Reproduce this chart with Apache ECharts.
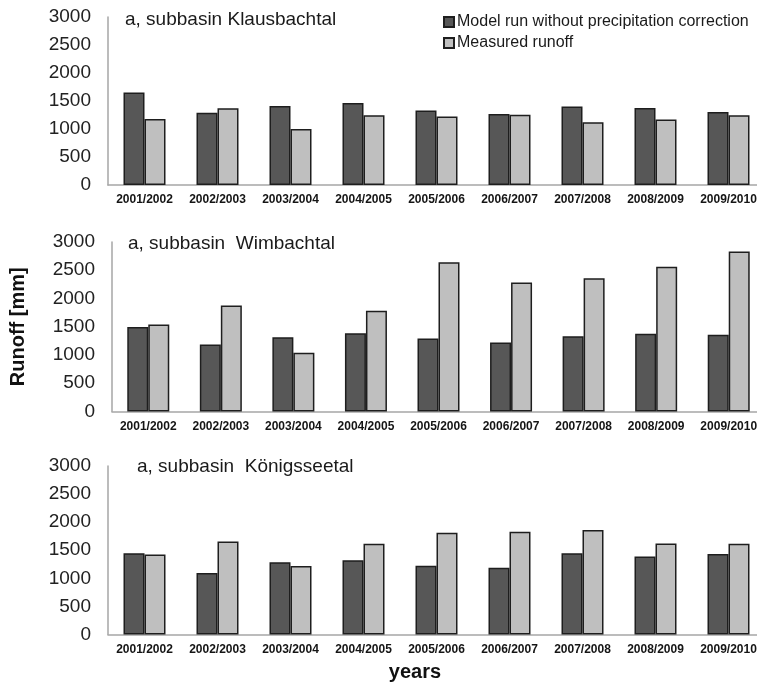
<!DOCTYPE html>
<html>
<head>
<meta charset="utf-8">
<script src="https://cdn.jsdelivr.net/npm/echarts@6/dist/echarts.min.js"></script>
<style>
  html, body { margin: 0; padding: 0; background: #fff; overflow: hidden; }
  #chart { width: 772px; height: 684px; }
</style>
</head>
<body>
<div id="chart"></div>
<script>
// Hydrological years shared by all three subbasins
const years = ['2001/2002', '2002/2003', '2003/2004', '2004/2005', '2005/2006',
               '2006/2007', '2007/2008', '2008/2009', '2009/2010'];

const panelTitles = ['a, subbasin Klausbachtal', 'a, subbasin  Wimbachtal', 'a, subbasin  Königsseetal'];

const seriesNames = ['Model run without precipitation correction', 'Measured runoff'];

// Annual runoff [mm]
const klausModel = [1650, 1290, 1410, 1465, 1330, 1270, 1400, 1375, 1305];
const klausMeasured = [1180, 1370, 1000, 1245, 1225, 1255, 1120, 1170, 1245];

const wimbModel = [1495, 1185, 1315, 1385, 1290, 1220, 1330, 1375, 1360];
const wimbMeasured = [1540, 1875, 1040, 1785, 2640, 2285, 2360, 2560, 2830];

const koenModel = [1445, 1095, 1285, 1320, 1225, 1190, 1445, 1390, 1435];
const koenMeasured = [1425, 1655, 1220, 1615, 1810, 1830, 1860, 1620, 1615];

const yTicks = { min: 0, max: 3000, interval: 500 };

const FONT = '"Liberation Sans", Arial, sans-serif';
const darkColor = '#575757';
const lightColor = '#bfbfbf';
const axisGray = '#a6a6a6';

const panels = [
  { top: 17, height: 168, model: klausModel, measured: klausMeasured, titleX: 125, titleY: 10 },
  { top: 242, height: 169.5, model: wimbModel, measured: wimbMeasured, titleX: 128, titleY: 234 },
  { top: 466, height: 168.5, model: koenModel, measured: koenMeasured, titleX: 137, titleY: 457 }
];

// The plot area runs slightly past the right edge of the visible page
const grids = panels.map(p => ({ left: 108, width: 657, top: p.top, height: p.height }));

const xAxes = panels.map((p, i) => ({
  type: 'category',
  gridIndex: i,
  data: years,
  axisLine: { show: true, lineStyle: { color: axisGray, width: 1.5 } },
  axisTick: { show: false },
  axisLabel: {
    interval: 0, margin: 9,
    fontFamily: FONT, fontSize: 12, fontWeight: 'bold', color: '#151515'
  }
}));

const yAxes = panels.map((p, i) => ({
  type: 'value',
  gridIndex: i,
  min: yTicks.min, max: yTicks.max, interval: yTicks.interval,
  axisLine: { show: true, lineStyle: { color: axisGray, width: 1.5 } },
  axisTick: { show: false },
  splitLine: { show: false },
  axisLabel: {
    margin: 17, fontFamily: FONT, fontSize: 19, color: '#222',
    formatter: v => String(v)
  },
  name: i === 1 ? 'Runoff [mm]' : '',
  nameLocation: 'middle',
  nameRotate: 90,
  nameGap: 84,
  nameTextStyle: { fontFamily: FONT, fontSize: 20, fontWeight: 'bold', color: '#111' }
}));

const barStyle = color => ({ color: color, borderColor: '#1e1e1e', borderWidth: 1.5 });

const series = [];
panels.forEach((p, i) => {
  series.push({
    name: seriesNames[0], type: 'bar', xAxisIndex: i, yAxisIndex: i,
    data: p.model, barWidth: 21, barGap: '0%',
    itemStyle: barStyle(darkColor), animation: false
  });
  series.push({
    name: seriesNames[1], type: 'bar', xAxisIndex: i, yAxisIndex: i,
    data: p.measured, barWidth: 21, barGap: '0%',
    itemStyle: barStyle(lightColor), animation: false
  });
});

const titles = panels.map((p, i) => ({
  text: panelTitles[i],
  left: p.titleX, top: p.titleY, padding: 0,
  textStyle: { fontFamily: FONT, fontSize: 19, fontWeight: 'normal', color: '#1a1a1a' }
}));

const chart = echarts.init(document.getElementById('chart'), null, { renderer: 'canvas' });
chart.setOption({
  backgroundColor: '#fff',
  animation: false,
  title: titles,
  legend: {
    orient: 'vertical', left: 443, top: 14, padding: 0,
    itemWidth: 10, itemHeight: 10, itemGap: 5,
    data: seriesNames.map(n => ({ name: n, icon: 'rect' })),
    textStyle: { fontFamily: FONT, fontSize: 16, color: '#1a1a1a', padding: [0, 0, 0, -2] }
  },
  grid: grids,
  xAxis: xAxes,
  yAxis: yAxes,
  series: series,
  graphic: [{
    type: 'text',
    style: {
      x: 415, y: 672, text: 'years', textAlign: 'center', textVerticalAlign: 'middle',
      font: 'bold 20px ' + FONT, fill: '#111'
    }
  }]
});
</script>
</body>
</html>
